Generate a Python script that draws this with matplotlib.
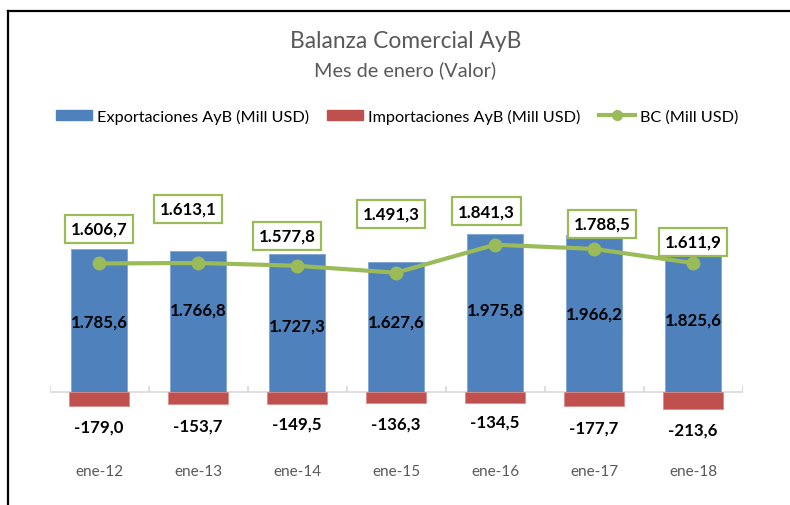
import numpy as np
import matplotlib
matplotlib.use("Agg")
import matplotlib.pyplot as plt
from matplotlib.lines import Line2D
from matplotlib.patches import Patch

plt.rcParams['font.family'] = ['Lato', 'DejaVu Sans']

# data
meses = ["ene-12", "ene-13", "ene-14", "ene-15", "ene-16", "ene-17", "ene-18"]
exportaciones = [1785.6, 1766.8, 1727.3, 1627.6, 1975.8, 1966.2, 1825.6]
importaciones = [-179.0, -153.7, -149.5, -136.3, -134.5, -177.7, -213.6]
balanza = [1606.7, 1613.1, 1577.8, 1491.3, 1841.3, 1788.5, 1611.9]

def fmt(v):
    s = f"{v:,.1f}"
    return s.replace(",", "X").replace(".", ",").replace("X", ".")

# label placement (data units), hand placed like in the original
exp_label_y = [875, 1037, 837, 887, 1037, 975, 900]
imp_label_y = [-437, -425, -400, -400, -375, -450, -475]
bc_label_y = [2040, 2290, 1950, 2225, 2260, 2100, 1880]
bc_label_dx = [0, -0.1, -0.1, -0.05, -0.085, 0.08, 0]

azul = "#4F81BD"
rojo = "#C0504D"
verde = "#9BBB59"
gris = "#595959"

W, H = 790, 506
fig = plt.figure(figsize=(W / 100, H / 100), dpi=100)

ax_left, ax_right = 49.5, 742.5
ax_top, ax_bottom = 150, 458
ax = fig.add_axes([ax_left / W, 1 - ax_bottom / H,
                   (ax_right - ax_left) / W, (ax_bottom - ax_top) / H])

x = np.arange(len(meses))
ax.bar(x, exportaciones, width=0.56, color=azul, edgecolor="#7FA5D6", linewidth=0.6, zorder=2)
ax.bar(x, importaciones, width=0.6, color=rojo, edgecolor="#D98C8A", linewidth=0.6, zorder=2)
ax.plot(x, balanza, color=verde, lw=3, marker="o", ms=9, zorder=3)

ax.set_xlim(-0.5, len(meses) - 0.5)
ax.set_ylim(-812.5, 3037.5)

ax.axhline(0, color="#D9D9D9", lw=1.2, zorder=1)
ax.vlines(np.arange(len(meses) + 1) - 0.5, 0, 80, color="#D9D9D9", lw=1.2, zorder=1)

for s in ax.spines.values():
    s.set_visible(False)
ax.set_yticks([])
ax.set_xticks(x)
ax.set_xticklabels(meses, color=gris, fontsize=11)
ax.tick_params(axis="x", length=0, pad=5)

for i in range(len(meses)):
    ax.text(x[i], exp_label_y[i], fmt(exportaciones[i]), ha="center", va="center",
            fontsize=12.2, fontweight="bold", color="black", zorder=4)
    ax.text(x[i], imp_label_y[i], fmt(importaciones[i]), ha="center", va="center",
            fontsize=12.2, fontweight="bold", color="black", zorder=4)
    ax.text(x[i] + bc_label_dx[i], bc_label_y[i], fmt(balanza[i]), ha="center", va="center",
            fontsize=12.2, fontweight="bold", color="black", zorder=5,
            bbox=dict(boxstyle="square,pad=0.35", fc="white", ec=verde, lw=1.6))

fig.text(406 / W, 1 - 42 / H, "Balanza Comercial AyB", ha="center", va="center",
         fontsize=16.4, color=gris)
fig.text(405 / W, 1 - 70 / H, "Mes de enero (Valor)", ha="center", va="center",
         fontsize=14.3, color=gris)

handles = [Patch(color=azul), Patch(color=rojo),
           Line2D([], [], color=verde, lw=3, marker="o", ms=7)]
labels = ["Exportaciones AyB (Mill USD)", "Importaciones AyB (Mill USD)", "BC (Mill USD)"]
fig.legend(handles, labels, ncol=3, loc="center", bbox_to_anchor=(397 / W, 1 - 117 / H),
           frameon=False, fontsize=11.7, handlelength=2.2, handleheight=0.6,
           handletextpad=0.3, columnspacing=1.15, labelcolor="black")

# chart frame
fig.add_artist(Line2D([8 / W, 1], [1 - 11.5 / H, 1 - 11.5 / H], color="black", lw=1.6,
                      transform=fig.transFigure))
fig.add_artist(Line2D([8 / W, 8 / W], [1 - 11.5 / H, 0], color="black", lw=1.6,
                      transform=fig.transFigure))

fig.savefig("out.png", dpi=100)
